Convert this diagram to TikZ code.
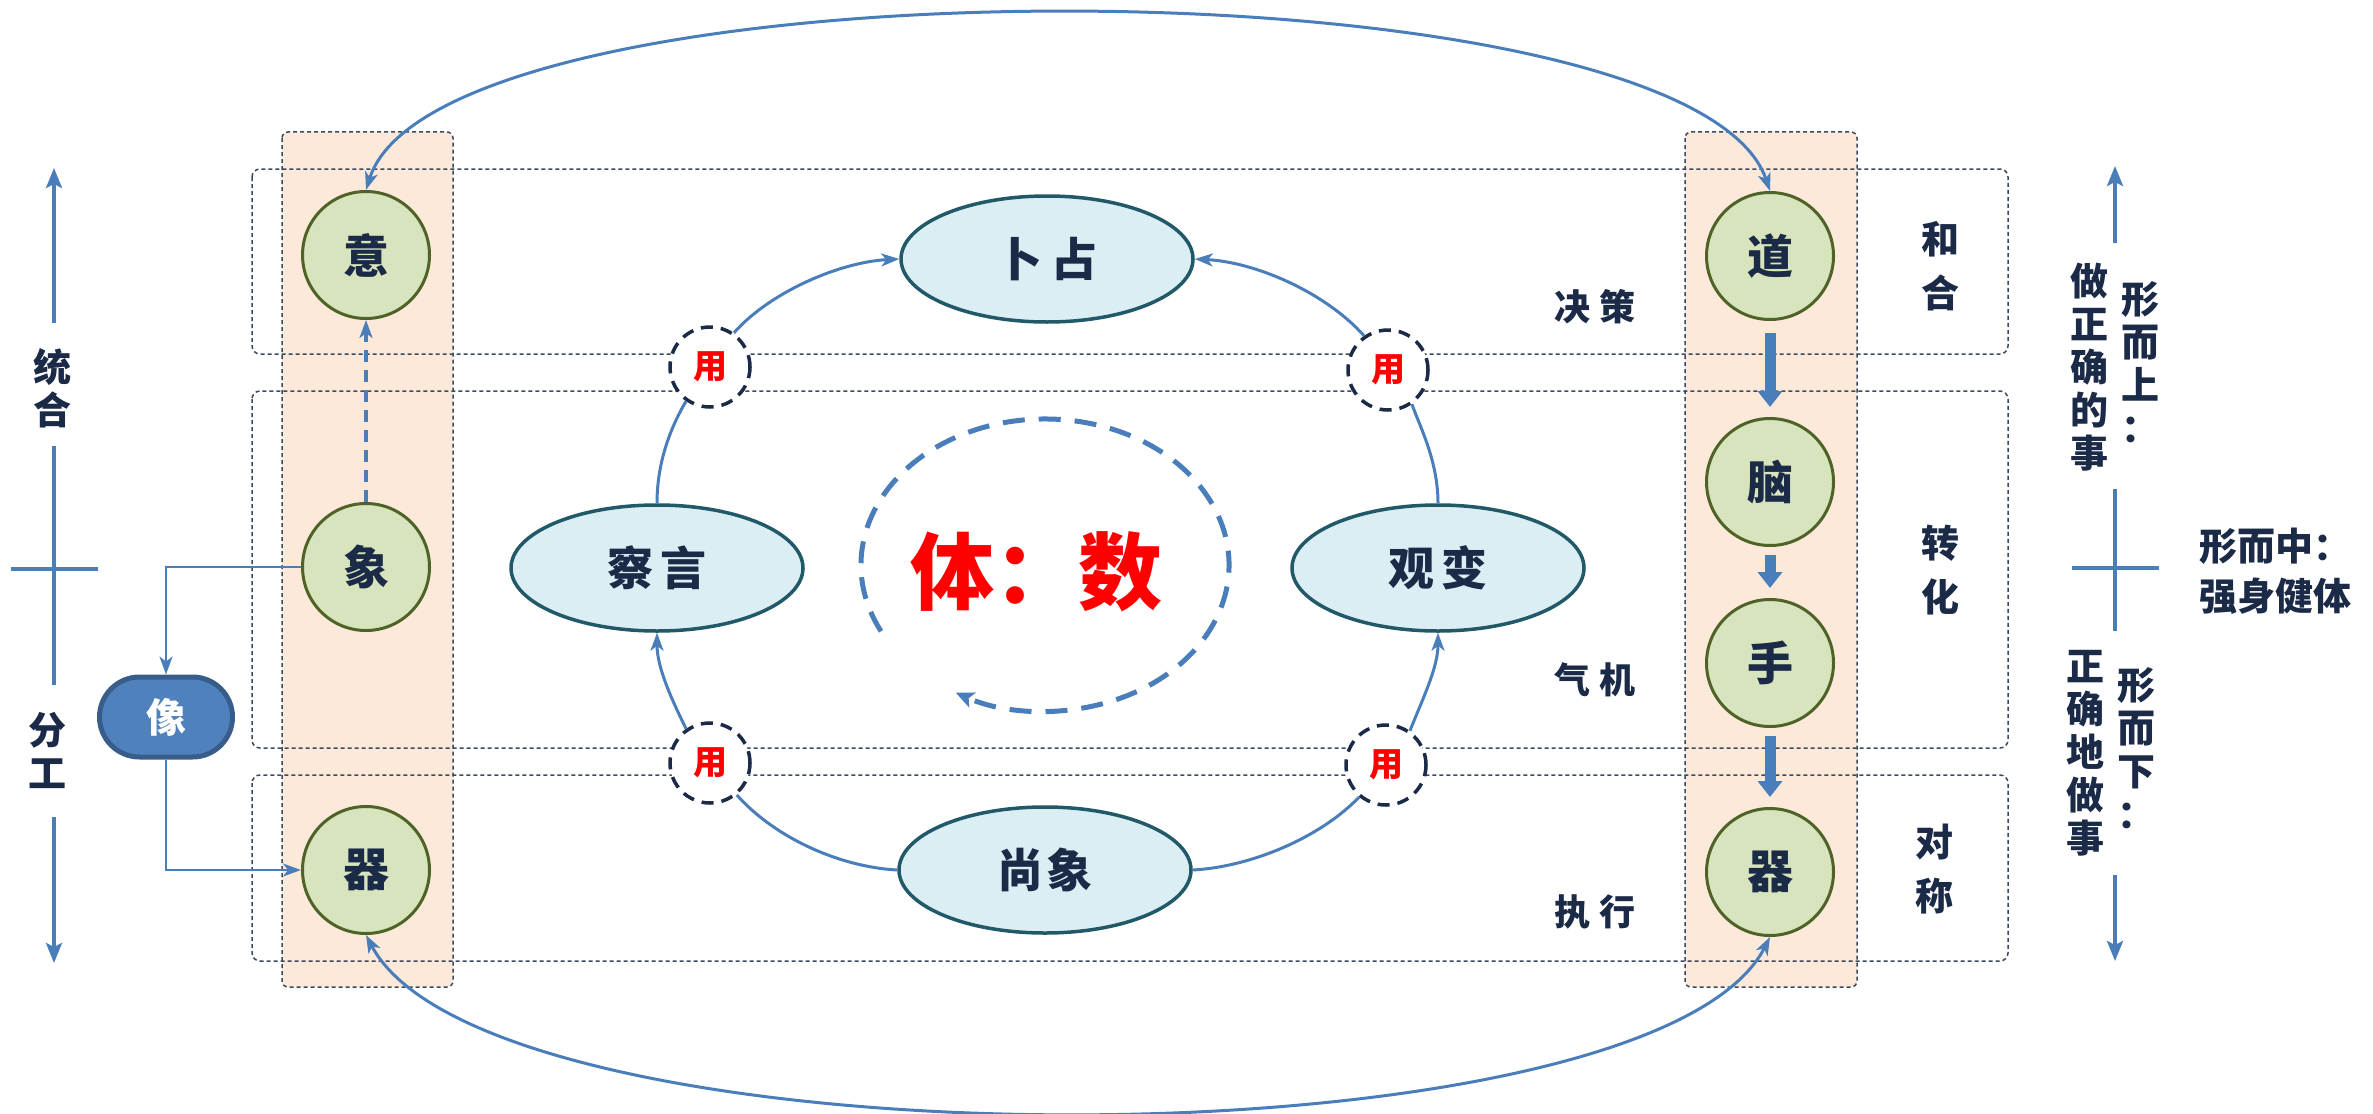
\documentclass[tikz,border=0pt]{standalone}
\usepackage{fontspec}
\setmainfont{Noto Sans CJK SC}
\usetikzlibrary{arrows.meta,shapes.geometric,shapes.misc}
\definecolor{lineblue}{HTML}{4A7EBB}
\definecolor{txt}{HTML}{1B2A47}
\definecolor{orangefill}{HTML}{FDE9D9}
\definecolor{greenfill}{HTML}{D7E4BD}
\definecolor{greenline}{HTML}{4F6228}
\definecolor{bluefill}{HTML}{DBEEF4}
\definecolor{blueline}{HTML}{215968}
\definecolor{pillfill}{HTML}{4F81BD}
\definecolor{pillline}{HTML}{385D8A}
\definecolor{dashgray}{HTML}{3C4A60}
\begin{document}
\begin{tikzpicture}[x=1pt,y=-1pt,
  every node/.style={text=txt},
  gcirc/.style={circle, draw=greenline, fill=greenfill, line width=3pt, minimum size=127pt, inner sep=0pt, font=\fontsize{46}{46}\selectfont\bfseries},
  bell/.style={ellipse, draw=blueline, fill=bluefill, line width=3.5pt, minimum width=292pt, minimum height=126pt, inner sep=0pt, font=\fontsize{46}{46}\selectfont\bfseries},
  yong/.style={circle, draw=txt, fill=white, dash pattern=on 12pt off 8pt, line width=3.5pt, minimum size=80pt, inner sep=0pt, text=red, font=\fontsize{34}{34}\selectfont\bfseries},
  pill/.style={rounded rectangle, draw=pillline, fill=pillfill, line width=5pt, minimum width=133pt, minimum height=80pt, inner sep=0pt, text=white, font=\fontsize{40}{40}\selectfont\bfseries},
  rowbox/.style={draw=dashgray, dash pattern=on 4pt off 3pt, line width=1.5pt, rounded corners=8pt},
  lbl/.style={align=center, font=\fontsize{38}{54}\selectfont\bfseries},
  vlbl/.style={align=center, font=\fontsize{38}{43}\selectfont\bfseries},
  hlbl/.style={font=\fontsize{36}{36}\selectfont\bfseries},
  conn/.style={draw=lineblue, line width=3pt},
  thin/.style={draw=lineblue, line width=2.2pt},
  arr/.style={-{Stealth[length=18pt,width=13pt,inset=5pt]}},
  darr/.style={{Stealth[length=18pt,width=13pt,inset=5pt]}-{Stealth[length=18pt,width=13pt,inset=5pt]}},
  axis/.style={draw=lineblue, line width=3.5pt},
  axarr/.style={-{Stealth[length=20pt,width=16pt,inset=4pt]}},
  blockarr/.style={draw=lineblue, line width=11pt, -{Triangle[length=16pt,width=24pt]}}
]
\useasboundingbox (0,0) rectangle (2373,1113);

% orange columns (fill)
\fill[orangefill, rounded corners=6pt] (282,132) rectangle (453,987);
\fill[orangefill, rounded corners=6pt] (1685,132) rectangle (1857,987);
% rows
\draw[rowbox] (252,169) rectangle (2008,354);
\draw[rowbox] (252,391) rectangle (2008,748);
\draw[rowbox] (252,775) rectangle (2008,961);
% column borders
\draw[rowbox, rounded corners=6pt] (282,132) rectangle (453,987);
\draw[rowbox, rounded corners=6pt] (1685,132) rectangle (1857,987);

% left column nodes
\node[gcirc] (yi) at (366,255) {意};
\node[gcirc] (xiang) at (366,567) {象};
\node[gcirc] (qil) at (366,870) {器};
\node[pill] (xb) at (166,717) {像};

% right column nodes
\node[gcirc] (dao) at (1770,256) {道};
\node[gcirc] (nao) at (1770,482) {脑};
\node[gcirc] (shou) at (1770,663) {手};
\node[gcirc] (qir) at (1770,872) {器};

% ring
\node[bell] (bz) at (1047,259) {卜\hspace{10pt}占};
\node[bell] (cy) at (657,568) {察\hspace{7pt}言};
\node[bell] (gb) at (1438,568) {观\hspace{7pt}变};
\node[bell] (sx) at (1045,870) {尚\hspace{4pt}象};

\node[yong] (ytl) at (710,367) {用};
\node[yong] (ytr) at (1388,370) {用};
\node[yong] (ybl) at (710,763) {用};
\node[yong] (ybr) at (1386,765) {用};

% center text
\node[text=red, font=\fontsize{84}{84}\selectfont\bfseries] (ti) at (1036,572) {体：数};
\begin{scope}[shift={(1045,565)}, y=1pt]
  \draw[draw=lineblue, line width=5pt, dash pattern=on 22pt off 14pt, -{Stealth[length=18pt,width=16pt,inset=4pt]}]
    (207:184 and 146) arc[start angle=207, end angle=-119, x radius=184, y radius=146];
\end{scope}

% ring connectors
\draw[conn] (cy.north) .. controls (657,460) and (672,425) .. (ytl.-125);
\draw[conn, arr] (ytl.55) .. controls (770,292) and (840,262) .. (bz.west);
\draw[conn] (gb.north) .. controls (1438,460) and (1419,425) .. (ytr.-55);
\draw[conn, arr] (ytr.125) .. controls (1325,292) and (1255,262) .. (bz.east);
\draw[conn] (sx.west) .. controls (840,867) and (775,838) .. (ybl.-50);
\draw[conn, arr] (ybl.125) .. controls (672,700) and (657,668) .. (cy.south);
\draw[conn] (sx.east) .. controls (1250,867) and (1320,838) .. (ybr.-130);
\draw[conn, arr] (ybr.55) .. controls (1422,700) and (1438,668) .. (gb.south);

% left connectors
\draw[conn, line width=4pt, dash pattern=on 12pt off 8pt, arr] (xiang.north) -- (yi.south);
\draw[thin, arr] (xiang.west) -| (xb.north);
\draw[thin, arr] (xb.south) |- (qil.west);

% right block arrows
\draw[blockarr] ([yshift=-12pt]dao.south) -- ([yshift=10pt]nao.north);
\draw[blockarr] ([yshift=-8pt]nao.south) -- ([yshift=10pt]shou.north);
\draw[blockarr] ([yshift=-8pt]shou.south) -- ([yshift=10pt]qir.north);

% big arcs
\draw[conn, darr] (yi.north) .. controls (440,-45) and (1690,-45) .. (dao.north);
\draw[conn, darr] (qil.south) .. controls (490,1171) and (1650,1171) .. (qir.south);

% row labels
\node[hlbl] (l1) at (1595,307) {决\hspace{10pt}策};
\node[hlbl] (l2) at (1595,680) {气\hspace{10pt}机};
\node[hlbl] (l3) at (1595,912) {执\hspace{10pt}行};
\node[lbl] (r1) at (1940,266) {和\\合};
\node[lbl] (r2) at (1940,570) {转\\化};
\node[lbl] (r3) at (1934,869) {对\\称};

% left axis
\draw[axis, axarr] (54,323) -- (54,168);
\node[vlbl] (tonghe) at (52,388) {统\\合};
\draw[axis] (54,446) -- (54,685);
\draw[axis] (11,569) -- (98,569);
\node[vlbl] (fengong) at (47,750) {分\\工};
\draw[axis, axarr] (54,817) -- (54,963);

% right axis
\draw[axis, axarr] (2115,243) -- (2115,166);
\draw[axis] (2115,489) -- (2115,631);
\draw[axis] (2072,568) -- (2159,568);
\draw[axis, axarr] (2115,875) -- (2115,961);

\node[vlbl] (zz) at (2089,367) {做\\正\\确\\的\\事};
\node[vlbl] (xs) at (2140,362) {形\\而\\上\\：};
\node[vlbl] (zq) at (2085,753) {正\\确\\地\\做\\事};
\node[vlbl] (xx) at (2136,748) {形\\而\\下\\：};
\node[align=left, anchor=west, font=\fontsize{38}{50}\selectfont\bfseries] (xz) at (2196,571) {形而中：\\强身健体};
\end{tikzpicture}
\end{document}
